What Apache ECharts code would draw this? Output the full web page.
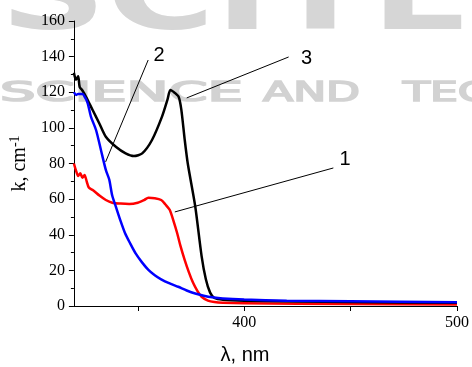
<!DOCTYPE html>
<html>
<head>
<meta charset="utf-8">
<script src="https://cdn.jsdelivr.net/npm/echarts@6/dist/echarts.min.js"></script>
<style>html,body{margin:0;padding:0;background:#fff}#c{width:472px;height:367px}</style>
</head>
<body>
<div id="c"></div>
<script>
// Curve 1 (red)
const wl1 = [320,321,322,323,324,325,326,327,329,332,335,338,342,346,350,353,355,358,361,363,365,367,368.5,370,372,374,376,378,380,383,386,390,400,450,500];
const k1  = [80,76,73,74.5,72,73.5,70,66.5,65,62,59.5,58,57.5,57.3,58,59.5,60.8,60.5,59.5,57,54,47,41,34,26,19,13,8.5,5.2,3,2.2,1.8,1.5,1.1,0.8];
// Curve 2 (blue)
const wl2 = [320,321,322,324,325.5,326.5,328,330.4,332.7,335,336.6,338,339.7,342,344,346.5,349,352,355,358,361,365,369,373,377,381,385,390,400,420,450,500];
const k2  = [120,118.5,119,119,116.5,113.8,106.3,98.8,87.6,76.4,71,62,55.8,47.5,41,35,29.5,24.5,20.3,17.3,15,12.7,10.8,8.7,7,5.8,4.9,4.2,3.6,3.0,2.6,2.1];
// Curve 3 (black)
const wl3 = [320,321,322,322.7,324,325.7,328.8,331.9,335,339.7,344.3,348.2,352.1,356.7,361.4,364,365.3,366.5,369.2,370.5,372,373.5,377,380,382,384,386,390,400,450,500];
const k3  = [131,127,129,123,121,117.5,110,102.6,95,89.4,85.7,84.2,85.7,93.2,106.3,116,121.3,120.5,117.5,110,94,80,56,28,15,7.5,4.5,3.5,3,2.2,1.8];
// Axis ticks
const xTicks = [350,400,450,500];
const xLabels = [400,500];
// Annotations
const annLabels = ['1','2','3'];
const annLabelPos = [[447.4,82],[360,140.4],[429.3,138.7]];
const annLineFrom = [[441.9,77.5],[354.9,138.1],[420.9,139.8]];
const annLineTo = [[367.4,52.8],[334.9,80.9],[373,116.8]];
// Watermark words
const wmWords = ['SCIENCE','AND','TECHNOLOGY'];

const zip = (a,b)=>a.map((v,i)=>[v,b[i]]);
const chart = echarts.init(document.getElementById('c'), null, {renderer:'canvas'});
const serif = 'Liberation Serif';

const option = {
  animation:false,
  backgroundColor:'#fff',
  grid:{left:71,right:13,top:21,bottom:61,containLabel:false},
  xAxis:{
    type:'value',min:320,max:500,
    axisLine:{show:true,onZero:false,lineStyle:{color:'#000',width:1}},
    axisTick:{show:true,customValues:xTicks,length:5,lineStyle:{color:'#000'}},
    axisLabel:{customValues:xLabels,fontFamily:serif,fontSize:16,color:'#000',margin:9},
    splitLine:{show:false}
  },
  yAxis:{
    type:'value',min:0,max:160,interval:20,
    axisLine:{show:true,lineStyle:{color:'#000',width:1}},
    axisTick:{show:true,length:5,lineStyle:{color:'#000'}},
    minorTick:{show:true,splitNumber:2,length:3,lineStyle:{color:'#000'}},
    axisLabel:{fontFamily:serif,fontSize:16,color:'#000',margin:9},
    splitLine:{show:false},
    name:'{a|k, cm}{b|-1}',nameLocation:'middle',nameGap:34,nameRotate:90,
    nameTextStyle:{rich:{a:{fontFamily:serif,fontSize:20,color:'#000'},b:{fontFamily:serif,fontSize:14,color:'#000',padding:[0,0,10,0]}}}
  },
  series:[
    {type:'line',data:zip(wl1,k1),showSymbol:false,smooth:0.25,lineStyle:{color:'#ff0000',width:2.5},z:2},
    {type:'line',data:zip(wl3,k3),showSymbol:false,smooth:0.25,lineStyle:{color:'#000000',width:2.5},z:3},
    {type:'line',data:zip(wl2,k2),showSymbol:false,smooth:0.25,lineStyle:{color:'#0000ff',width:2.5},z:4,
     markLine:{silent:true,symbol:['none','none'],animation:false,label:{show:false},
       lineStyle:{color:'#000',width:1,type:'solid'},
       data:annLineFrom.map((p,i)=>[{coord:p},{coord:annLineTo[i]}])}}
  ]
};
chart.setOption(option);

const cv = document.createElement('canvas').getContext('2d');
function measure(text, font){ cv.font = font; return cv.measureText(text).width; }
const wmFont = '27px "DejaVu Sans"';
const sciScale = 243 / measure(wmWords[0], wmFont);
const andScale = 97 / measure(wmWords[1], wmFont);
const bigFont = 'bold 100px "DejaVu Sans"';
const bigScale = 472 / measure('SCITE', bigFont);
const wmStyle = (t,f)=>({text:t,font:f,fill:'#d2d2d2',stroke:'#d2d2d2',lineWidth:1.6,textVerticalAlign:'middle'});

const graphics = [
  {type:'text',x:0,y:3,z:-10,silent:true,scaleX:bigScale,style:{text:'SCITE',font:bigFont,fill:'#d6d6d6',textVerticalAlign:'middle'}},
  {type:'text',x:0,y:93.5,z:-10,silent:true,scaleX:sciScale,style:wmStyle(wmWords[0],wmFont)},
  {type:'text',x:263,y:93.5,z:-10,silent:true,scaleX:andScale,style:wmStyle(wmWords[1],wmFont)},
  {type:'text',x:403,y:93.5,z:-10,silent:true,scaleX:andScale,style:wmStyle(wmWords[2],wmFont)},
  {type:'text',x:245,y:355,style:{text:'λ, nm',font:'20px "Liberation Sans"',fill:'#000',textAlign:'center',textVerticalAlign:'middle'}}
];
annLabels.forEach((t,i)=>{
  const p = chart.convertToPixel({gridIndex:0}, annLabelPos[i]);
  graphics.push({type:'text',x:p[0],y:p[1],style:{text:t,font:'20px "Liberation Sans"',fill:'#000',textAlign:'center',textVerticalAlign:'middle'}});
});
chart.setOption({graphic:graphics});
</script>
</body>
</html>
